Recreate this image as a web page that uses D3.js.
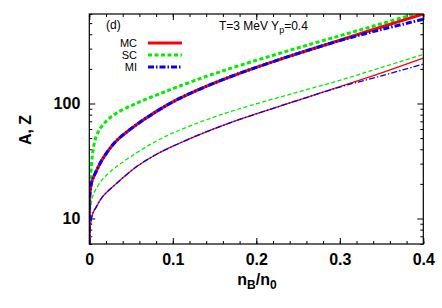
<!DOCTYPE html>
<html>
<head>
<meta charset="utf-8">
<script src="https://cdn.jsdelivr.net/npm/d3@7"></script>
<style>
  body { margin: 0; background: #fff; }
  text { font-family: "Liberation Sans", Arial, sans-serif; }
</style>
</head>
<body>
<div id="chart"></div>
<script>
// n_B/n_0 sample points
const nB = [0, 0.0005, 0.002, 0.004, 0.008, 0.016, 0.032, 0.056, 0.08, 0.104, 0.14, 0.18, 0.24, 0.3, 0.35, 0.4];
// mass number A (thick lines)
const mcA = [6, 15.5, 19.5, 22, 25.5, 33, 47, 65, 85, 107, 141, 183, 258, 355, 463, 600];
const scA = [6, 18, 26, 37, 51, 65, 82, 100, 118, 138, 172, 214, 290, 388, 494, 630];
const miA = [6, 15.5, 19.5, 22, 25.5, 33, 47, 65, 85, 107, 141, 183, 258, 352, 440, 540];
// charge Z (thin lines)
const mcZ = [6, 7.5, 9.4, 11, 12.5, 15.5, 20, 28, 36, 43.8, 56.6, 72.6, 101, 140, 185, 248];
const scZ = [6, 10, 13, 15.5, 18, 22, 28, 37, 47, 57, 72, 90, 120, 159, 206, 267];
const miZ = [6, 7.5, 9.4, 11, 12.5, 15.5, 20, 28, 36, 43.8, 56.6, 72.6, 101, 139, 174, 220];

const xTicks = [0, 0.1, 0.2, 0.3, 0.4];
const yTicks = [10, 100];
const legendNames = ["MC", "SC", "MI"];

const width = 442, height = 308;
const margin = {left: 89.3, right: 18.7, top: 14, bottom: 64};
const iw = width - margin.left - margin.right;
const ih = height - margin.top - margin.bottom;

const styles = {
  MC: {color: "#ff0000", dash: null},
  SC: {color: "#00ee00", dash: "4,2.5"},
  MI: {color: "#0000ff", dash: "6,2,1.5,2"}
};

const svg = d3.select("#chart").append("svg")
  .attr("width", width).attr("height", height);

const g = svg.append("g")
  .attr("transform", "translate(" + margin.left + "," + margin.top + ")");

let x = d3.scaleLinear().domain([0, 0.4]).range([0, iw]);
let y = d3.scaleLog().domain([6, 600]).range([ih, 0]);

svg.append("defs").append("clipPath").attr("id", "clip")
  .append("rect").attr("width", iw).attr("height", ih);

// minor ticks
const xMinor = d3.range(0, 0.4001, 0.02);
const yMinor = [6,7,8,9,20,30,40,50,60,70,80,90,200,300,400,500,600];

// bottom & top ticks
g.append("g").attr("transform", "translate(0," + ih + ")")
  .call(d3.axisBottom(x).tickValues(xMinor).tickSize(-3).tickFormat(""))
  .call(a => a.select(".domain").remove());
g.append("g").attr("transform", "translate(0," + ih + ")")
  .call(d3.axisBottom(x).tickValues(xTicks).tickSize(-6).tickPadding(10)
    .tickFormat(d => d === 0 ? "0" : d3.format(".1f")(d)))
  .call(a => a.select(".domain").remove());
g.append("g")
  .call(d3.axisTop(x).tickValues(xMinor).tickSize(-3).tickFormat(""))
  .call(a => a.select(".domain").remove());
g.append("g")
  .call(d3.axisTop(x).tickValues(xTicks).tickSize(-6).tickFormat(""))
  .call(a => a.select(".domain").remove());

// left & right ticks
g.append("g")
  .call(d3.axisLeft(y).tickValues(yMinor).tickSize(-3).tickFormat(""))
  .call(a => a.select(".domain").remove());
g.append("g")
  .call(d3.axisLeft(y).tickValues(yTicks).tickSize(-6).tickPadding(9).tickFormat(d3.format("d")))
  .call(a => a.select(".domain").remove());
g.append("g").attr("transform", "translate(" + iw + ",0)")
  .call(d3.axisRight(y).tickValues(yMinor).tickSize(-3).tickFormat(""))
  .call(a => a.select(".domain").remove());
g.append("g").attr("transform", "translate(" + iw + ",0)")
  .call(d3.axisRight(y).tickValues(yTicks).tickSize(-6).tickFormat(""))
  .call(a => a.select(".domain").remove());

g.selectAll(".tick line").attr("stroke", "#000").attr("stroke-width", 1);
g.selectAll(".tick text")
  .style("font-size", "16px").style("font-weight", "bold").attr("fill", "#000");

// curves
const line = d3.line()
  .x(d => x(d[0]))
  .y(d => y(d[1]))
  .curve(d3.curveCatmullRom.alpha(0.5));

const series = [
  {name: "SC", vals: scZ, w: 1.3},
  {name: "MC", vals: mcZ, w: 1.3},
  {name: "MI", vals: miZ, w: 1.3},
  {name: "SC", vals: scA, w: 3},
  {name: "MC", vals: mcA, w: 3},
  {name: "MI", vals: miA, w: 3}
];

const plot = g.append("g").attr("clip-path", "url(#clip)");
plot.selectAll("path.curve")
  .data(series)
  .enter()
  .append("path")
    .attr("class", "curve")
    .attr("d", s => line(nB.map((v, i) => [v, s.vals[i]])))
    .attr("fill", "none")
    .attr("stroke", s => styles[s.name].color)
    .attr("stroke-width", s => s.w)
    .attr("stroke-dasharray", s => styles[s.name].dash);

// frame
g.append("rect").attr("width", iw).attr("height", ih)
  .attr("fill", "none").attr("stroke", "#000").attr("stroke-width", 1.2);

// legend
const leg = g.append("g");
legendNames.forEach((n, i) => {
  const yy = 29 + i * 12;
  leg.append("text").attr("x", 137 - margin.left).attr("y", yy + 4)
    .attr("text-anchor", "end").style("font-size", "11px").text(n);
  leg.append("line")
    .attr("x1", 148 - margin.left).attr("x2", 182 - margin.left)
    .attr("y1", yy).attr("y2", yy)
    .attr("stroke", styles[n].color).attr("stroke-width", 3)
    .attr("stroke-dasharray", styles[n].dash);
});

g.append("text").attr("x", 106 - margin.left).attr("y", 15)
  .style("font-size", "12px").text("(d)");

const ann = g.append("text").attr("x", 219 - margin.left).attr("y", 16)
  .style("font-size", "12px");
ann.append("tspan").text("T=3 MeV Y");
ann.append("tspan").attr("dy", 3).style("font-size", "9px").text("p");
ann.append("tspan").attr("dy", -3).text("=0.4");

// axis titles
const xt = svg.append("text").attr("x", 257).attr("y", 285)
  .attr("text-anchor", "middle").style("font-size", "16px").style("font-weight", "bold");
xt.append("tspan").text("n");
xt.append("tspan").attr("dy", 4).style("font-size", "12px").text("B");
xt.append("tspan").attr("dy", -4).text("/n");
xt.append("tspan").attr("dy", 4).style("font-size", "12px").text("0");

svg.append("text")
  .attr("transform", "translate(31,130) rotate(-90)")
  .attr("text-anchor", "middle").style("font-size", "16px").style("font-weight", "bold")
  .text("A, Z");
</script>
</body>
</html>
